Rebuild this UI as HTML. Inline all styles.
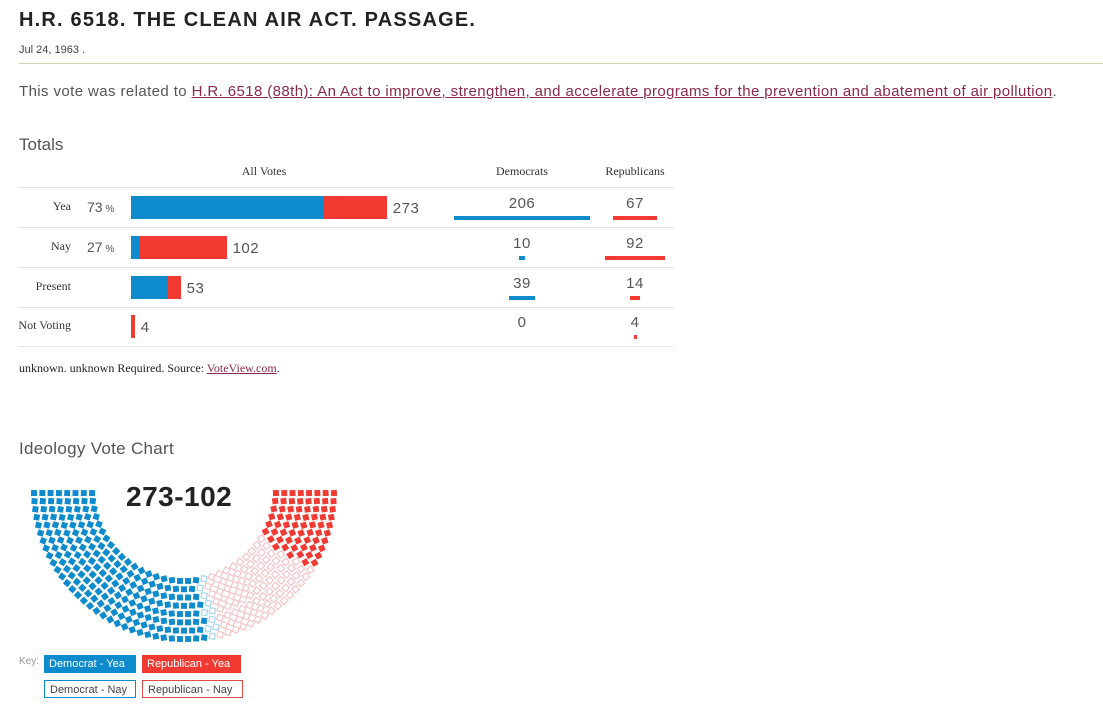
<!DOCTYPE html>
<html><head><meta charset="utf-8"><style>
body{margin:0;width:1103px;height:722px;background:#fff;font-family:"Liberation Sans",sans-serif;color:#333;position:relative;overflow:hidden}
.a{position:absolute;white-space:nowrap}
.serif{font-family:"Liberation Serif",serif}
a{color:#8a2a4a}
.key{position:absolute;font-size:11px;height:18px;line-height:18px;padding:0 5px;box-sizing:border-box}
</style></head><body>
<div class="a" style="left:19px;top:9px;font-size:20px;font-weight:bold;color:#222;letter-spacing:1.2px">H.R. 6518. THE CLEAN AIR ACT. PASSAGE.</div>
<div class="a" style="left:19px;top:44px;font-size:11px;color:#444">Jul 24, 1963 .</div>
<div class="a" style="left:19px;top:63px;width:1084px;height:1px;background:#d3d3b4"></div>
<div class="a" style="left:19px;top:83px;font-size:15px;color:#555;letter-spacing:0.4px">This vote was related to <a href="#">H.R. 6518 (88th): An Act to improve, strengthen, and accelerate programs for the prevention and abatement of air pollution</a>.</div>
<div class="a" style="left:19px;top:135px;font-size:17px;color:#555">Totals</div>
<div id="tbl"></div>
<div class="a serif" style="left:19px;top:361px;font-size:12px;color:#222">unknown. unknown Required. Source: <a href="#">VoteView.com</a>.</div>
<div class="a" style="left:19px;top:439px;font-size:17px;color:#555;letter-spacing:0.3px">Ideology Vote Chart</div>
<svg class="a" id="hemi" style="left:0;top:470px" width="370" height="180"></svg>
<div class="a" style="left:126px;top:481px;font-size:28px;font-weight:bold;color:#222;letter-spacing:0.5px">273-102</div>
<div class="a" style="left:19px;top:656px;font-size:10px;color:#999">Key:</div>
<div class="key" style="left:44px;top:655px;width:92px;background:#0d8bcc;color:#fff">Democrat - Yea</div>
<div class="key" style="left:142px;top:655px;width:99px;background:#f03a32;color:#fff">Republican - Yea</div>
<div class="key" style="left:44px;top:680px;width:92px;border:1px solid #0d8bcc;color:#444">Democrat - Nay</div>
<div class="key" style="left:142px;top:680px;width:101px;border:1px solid #e0494a;color:#444">Republican - Nay</div>
<script>
const categories=["Yea","Nay","Present","Not Voting"];
const percents=["73","27","",""];
const demValues=[206,10,39,0];
const repValues=[67,92,14,4];
const BLUE="#0d8bcc",RED="#f03a32";
const tbl=document.getElementById('tbl');
function mk(style,txt,name,cls){const d=document.createElement('div');d.className='a '+(cls||'');d.style.cssText=style;if(txt!==undefined)d.innerHTML=txt;


tbl.appendChild(d);return d;}
mk('left:200px;top:164px;width:128px;text-align:center;font-size:12px','All Votes','header-all-votes','serif');
mk('left:472px;top:164px;width:100px;text-align:center;font-size:12px','Democrats','header-democrats','serif');
mk('left:585px;top:164px;width:100px;text-align:center;font-size:12px','Republicans','header-republicans','serif');
const rowTop=187,rowH=40,sx=0.937,ps=0.66;
mk('left:18px;top:'+rowTop+'px;width:656px;height:1px;background:#e4e4e4','','row-divider');
categories.forEach((c,i)=>{
 const y=rowTop+i*rowH-(i>2?1:0);
 const cy=y+20;
 mk('left:0;top:'+(cy-8)+'px;width:71px;text-align:right;font-size:12px',c,'row-label-'+i,'serif');
 if(percents[i])mk('left:87px;top:'+(cy-8)+'px;font-size:14px;color:#555',percents[i]+'<span style="font-size:10px"> %</span>','row-percent-'+i);
 const d=demValues[i],r=repValues[i],t=d+r;
 const dw=d*sx,rw=r*sx;
 if(d>0)mk('left:131px;top:'+(cy-11)+'px;width:'+dw+'px;height:23px;background:'+BLUE,'','bar-dem-'+i);
 if(r>0)mk('left:'+(131+dw)+'px;top:'+(cy-11)+'px;width:'+Math.max(rw,3)+'px;height:23px;background:'+RED,'','bar-rep-'+i);
 mk('left:'+(131+dw+Math.max(rw,3)+6)+'px;top:'+(cy-7)+'px;font-size:15px;color:#555;letter-spacing:0.5px',t,'bar-total-'+i);
 mk('left:472px;top:'+(cy-12)+'px;width:100px;text-align:center;font-size:15px;color:#555;letter-spacing:0.5px',d,'dem-count-'+i);
 if(d>0)mk('left:'+(522-Math.max(d*ps,5)/2)+'px;top:'+(cy+9)+'px;width:'+Math.max(d*ps,5)+'px;height:4px;background:'+BLUE,'','dem-bar-'+i);
 mk('left:585px;top:'+(cy-12)+'px;width:100px;text-align:center;font-size:15px;color:#555;letter-spacing:0.5px',r,'rep-count-'+i);
 if(r>0)mk('left:'+(635-Math.max(r*ps,3)/2)+'px;top:'+(cy+9)+'px;width:'+Math.max(r*ps,3)+'px;height:4px;background:'+RED,'','rep-bar-'+i);
 mk('left:18px;top:'+(y+rowH)+'px;width:656px;height:1px;background:#e4e4e4','','row-divider');
});
const seatGroups=[206,10,92,67];
const seatFill=[BLUE,"#fff","#fff",RED];
const seatStroke=[BLUE,"#a9d7ee","#f4c4c6",RED];
const svg=document.getElementById('hemi'),NS="http://www.w3.org/2000/svg";
const cx=184,cyy=19,rows=8,r0=92,r1=150;
const total=seatGroups.reduce((a,b)=>a+b,0);
let radii=[];for(let k=0;k<rows;k++)radii.push(r0+(r1-r0)*k/(rows-1));
const sumR=radii.reduce((a,b)=>a+b,0);
let seats=[];let assigned=0;
radii.forEach((rr,k)=>{let n=k==rows-1?total-assigned:Math.round(total*rr/sumR);assigned+=n;
 for(let j=0;j<n;j++){const a=Math.PI*(j+0.5)/n;seats.push({a,rr});}});
seats.sort((p,q)=>p.a-q.a);
let g=0,cum=seatGroups[0];
seats.forEach((s,i)=>{while(i>=cum&&g<3){g++;cum+=seatGroups[g];}
 const x=cx-Math.cos(s.a)*s.rr,y=cyy+Math.sin(s.a)*s.rr;
 const e=document.createElementNS(NS,'rect');
 e.setAttribute('x',x-2.7);e.setAttribute('y',y-2.7);e.setAttribute('width',5.4);e.setAttribute('height',5.4);
 e.setAttribute('fill',seatFill[g]);e.setAttribute('stroke',seatStroke[g]);e.setAttribute('stroke-width',g==1||g==2?1.2:0.5);
 e.setAttribute('transform','rotate('+(s.a*180/Math.PI)+' '+x+' '+y+')');
 
 
 svg.appendChild(e);});
</script>
</body></html>
